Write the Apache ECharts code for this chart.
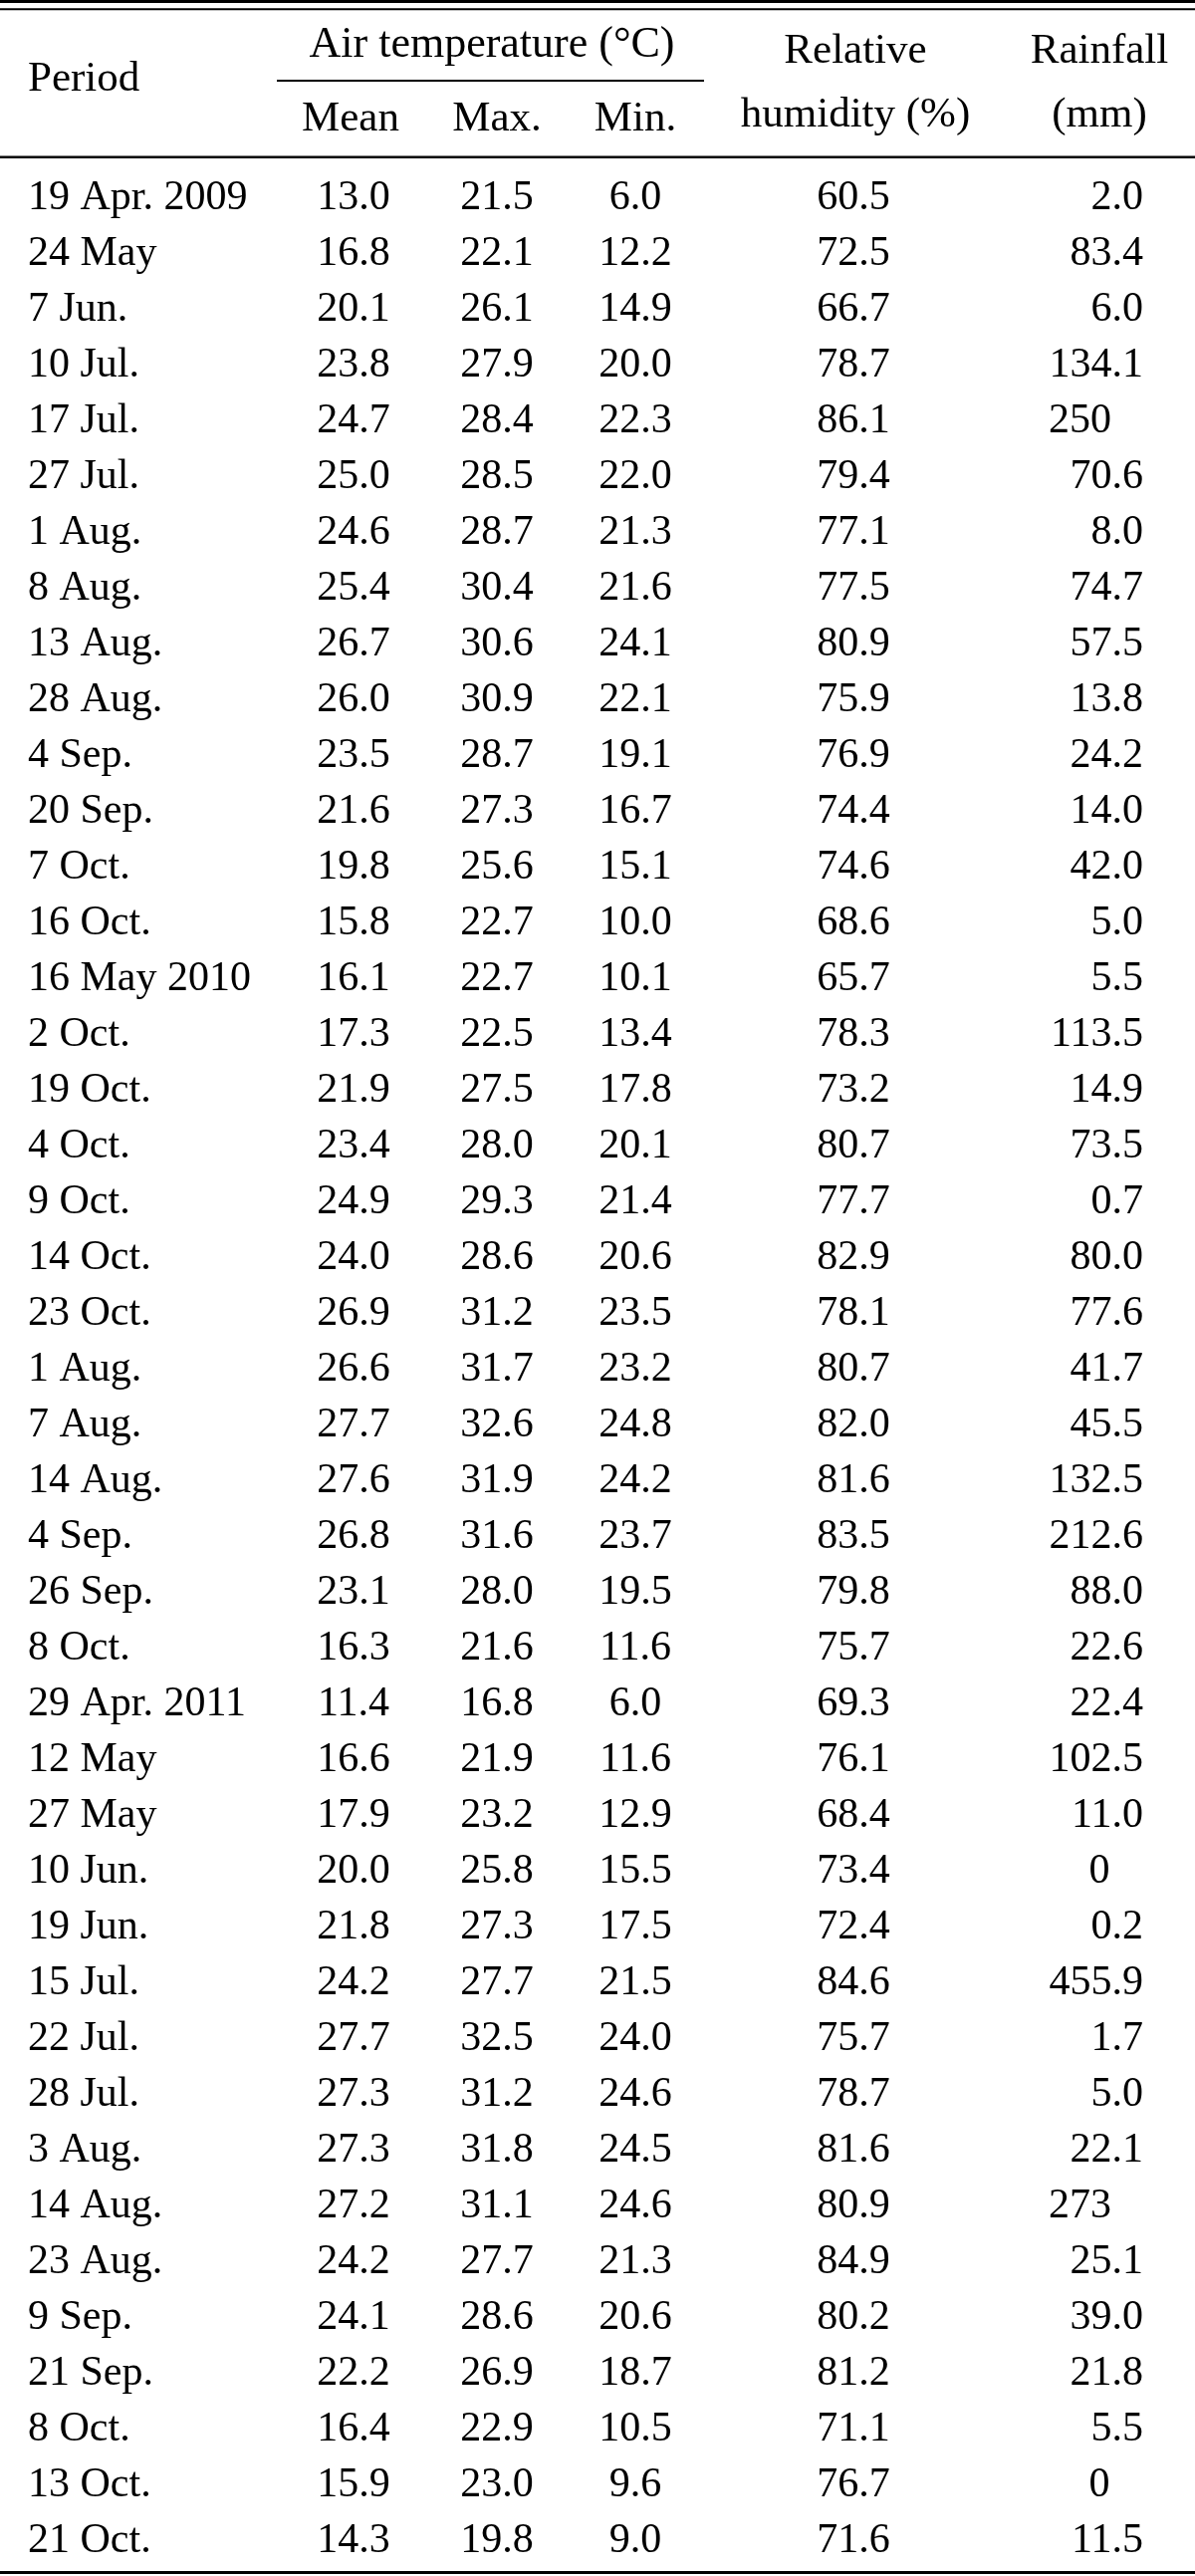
<!DOCTYPE html>
<html>
<head>
<meta charset="utf-8">
<script src="https://cdn.jsdelivr.net/npm/echarts@6/dist/echarts.min.js"></script>
<style>
  html, body { margin: 0; padding: 0; background: #fff; }
  #chart { width: 1200px; height: 2586px; }
</style>
</head>
<body>
<div id="chart"></div>
<script>
// ---------------- DATA ----------------
const periods = ['19 Apr. 2009', '24 May', '7 Jun.', '10 Jul.', '17 Jul.', '27 Jul.', '1 Aug.', '8 Aug.',
  '13 Aug.', '28 Aug.', '4 Sep.', '20 Sep.', '7 Oct.', '16 Oct.', '16 May 2010', '2 Oct.', '19 Oct.',
  '4 Oct.', '9 Oct.', '14 Oct.', '23 Oct.', '1 Aug.', '7 Aug.', '14 Aug.', '4 Sep.', '26 Sep.', '8 Oct.',
  '29 Apr. 2011', '12 May', '27 May', '10 Jun.', '19 Jun.', '15 Jul.', '22 Jul.', '28 Jul.', '3 Aug.',
  '14 Aug.', '23 Aug.', '9 Sep.', '21 Sep.', '8 Oct.', '13 Oct.', '21 Oct.'];
const meanTemp = [13.0, 16.8, 20.1, 23.8, 24.7, 25.0, 24.6, 25.4, 26.7, 26.0, 23.5, 21.6, 19.8, 15.8,
  16.1, 17.3, 21.9, 23.4, 24.9, 24.0, 26.9, 26.6, 27.7, 27.6, 26.8, 23.1, 16.3,
  11.4, 16.6, 17.9, 20.0, 21.8, 24.2, 27.7, 27.3, 27.3, 27.2, 24.2, 24.1, 22.2, 16.4, 15.9, 14.3];
const maxTemp = [21.5, 22.1, 26.1, 27.9, 28.4, 28.5, 28.7, 30.4, 30.6, 30.9, 28.7, 27.3, 25.6, 22.7,
  22.7, 22.5, 27.5, 28.0, 29.3, 28.6, 31.2, 31.7, 32.6, 31.9, 31.6, 28.0, 21.6,
  16.8, 21.9, 23.2, 25.8, 27.3, 27.7, 32.5, 31.2, 31.8, 31.1, 27.7, 28.6, 26.9, 22.9, 23.0, 19.8];
const minTemp = [6.0, 12.2, 14.9, 20.0, 22.3, 22.0, 21.3, 21.6, 24.1, 22.1, 19.1, 16.7, 15.1, 10.0,
  10.1, 13.4, 17.8, 20.1, 21.4, 20.6, 23.5, 23.2, 24.8, 24.2, 23.7, 19.5, 11.6,
  6.0, 11.6, 12.9, 15.5, 17.5, 21.5, 24.0, 24.6, 24.5, 24.6, 21.3, 20.6, 18.7, 10.5, 9.6, 9.0];
const humidity = [60.5, 72.5, 66.7, 78.7, 86.1, 79.4, 77.1, 77.5, 80.9, 75.9, 76.9, 74.4, 74.6, 68.6,
  65.7, 78.3, 73.2, 80.7, 77.7, 82.9, 78.1, 80.7, 82.0, 81.6, 83.5, 79.8, 75.7,
  69.3, 76.1, 68.4, 73.4, 72.4, 84.6, 75.7, 78.7, 81.6, 80.9, 84.9, 80.2, 81.2, 71.1, 76.7, 71.6];
// rainfall kept exactly as printed in the source table
const rainfall = ['2.0', '83.4', '6.0', '134.1', '250', '70.6', '8.0', '74.7', '57.5', '13.8', '24.2',
  '14.0', '42.0', '5.0', '5.5', '113.5', '14.9', '73.5', '0.7', '80.0', '77.6', '41.7', '45.5',
  '132.5', '212.6', '88.0', '22.6', '22.4', '102.5', '11.0', '0', '0.2', '455.9', '1.7', '5.0',
  '22.1', '273', '25.1', '39.0', '21.8', '5.5', '0', '11.5'];

const headerGroup = 'Air temperature (°C)';
const headerSub = ['Mean', 'Max.', 'Min.'];
const headerPeriod = 'Period';
const headerRH = ['Relative', 'humidity (%)'];
const headerRain = ['Rainfall', '(mm)'];

// ---------------- LAYOUT ----------------
const FONT_FAMILY = '"Liberation Serif", "Times New Roman", serif';
const FONT_SIZE = 42;
const HEAD_SIZE = 43;
const COL = { period: 28, mean: 355, max: 499, min: 638, rh: 857, rainRight: 1148, rainLeft: 1053, rainCenter: 1104 };

function txt(text, x, y, align, size) {
  return {
    type: 'text', x: x, y: y, silent: true,
    style: { text: text, fontSize: size || FONT_SIZE, fontFamily: FONT_FAMILY, fill: '#000', align: align, verticalAlign: 'middle' }
  };
}
function rule(x1, x2, y, w) {
  return { type: 'line', silent: true, shape: { x1: x1, y1: y, x2: x2, y2: y }, style: { stroke: '#000', lineWidth: w } };
}

const chart = echarts.init(document.getElementById('chart'), null, { renderer: 'canvas' });

const option = {
  backgroundColor: '#fff',
  animation: false,
  grid: { left: 0, right: 0, top: 171, bottom: 7 },
  xAxis: { type: 'value', min: 0, max: 1200, show: false },
  yAxis: { type: 'category', data: periods, inverse: true, show: false },
  series: [{
    type: 'custom',
    silent: true,
    encode: { x: 0, y: 1 },
    data: periods.map((p, i) => [0, i]),
    renderItem: function (params, api) {
      const i = params.dataIndex;
      const y = api.coord([0, i])[1];
      const children = [
        txt(periods[i], COL.period, y, 'left'),
        txt(meanTemp[i].toFixed(1), COL.mean, y, 'center'),
        txt(maxTemp[i].toFixed(1), COL.max, y, 'center'),
        txt(minTemp[i].toFixed(1), COL.min, y, 'center'),
        txt(humidity[i].toFixed(1), COL.rh, y, 'center')
      ];
      const r = rainfall[i];
      if (r.indexOf('.') >= 0) children.push(txt(r, COL.rainRight, y, 'right'));
      else if (parseFloat(r) === 0) children.push(txt(r, COL.rainCenter, y, 'center'));
      else children.push(txt(r, COL.rainLeft, y, 'left'));
      return { type: 'group', children: children };
    }
  }],
  graphic: [
    rule(0, 1200, 1.5, 3),
    rule(0, 1200, 9.3, 2),
    rule(278, 707, 81, 2),
    rule(0, 1200, 157.7, 2.5),
    rule(0, 1200, 2582.5, 3),
    txt(headerGroup, 494, 45, 'center', 44),
    txt(headerPeriod, 28, 80, 'left', HEAD_SIZE),
    txt(headerSub[0], 352, 120, 'center', HEAD_SIZE),
    txt(headerSub[1], 499, 120, 'center', HEAD_SIZE),
    txt(headerSub[2], 638, 120, 'center', HEAD_SIZE),
    txt(headerRH[0], 859, 52, 'center', HEAD_SIZE),
    txt(headerRH[1], 859, 116, 'center', HEAD_SIZE),
    txt(headerRain[0], 1104, 52, 'center', HEAD_SIZE),
    txt(headerRain[1], 1104, 116, 'center', HEAD_SIZE)
  ]
};
chart.setOption(option);
</script>
</body>
</html>
